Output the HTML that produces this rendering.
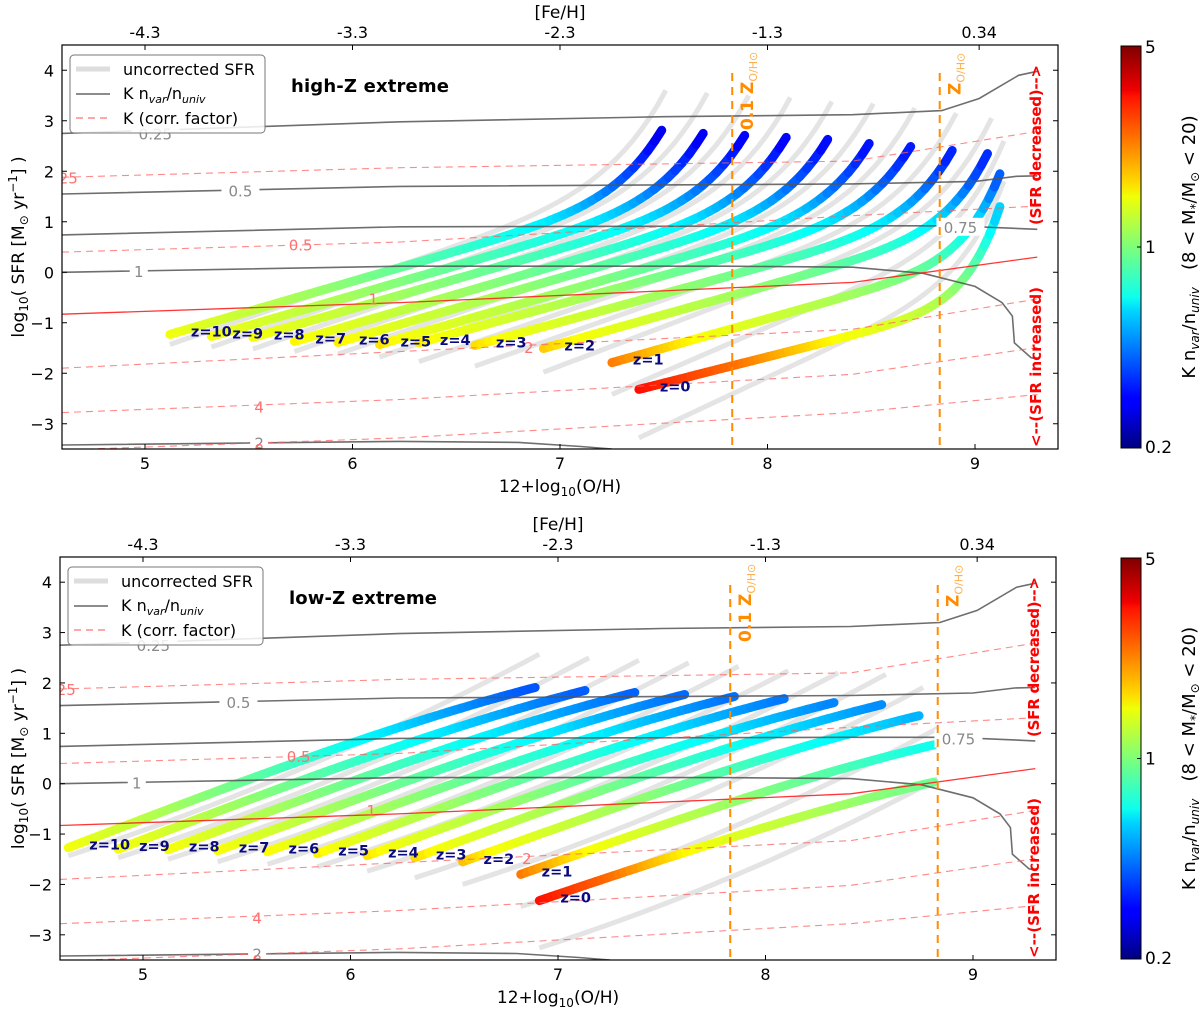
<!DOCTYPE html>
<html><head><meta charset="utf-8"><style>
html,body{margin:0;padding:0;background:#fff;}
svg{display:block;font-family:"DejaVu Sans","Liberation Sans",sans-serif;}
</style></head><body>
<svg id="chart" width="1200" height="1012" viewBox="0 0 1200 1012" xmlns="http://www.w3.org/2000/svg">
<defs>
<linearGradient id="jet" x1="0" y1="1" x2="0" y2="0">
<stop offset="0" stop-color="#000080"/><stop offset="0.11" stop-color="#0000ff"/><stop offset="0.125" stop-color="#0000ff"/>
<stop offset="0.34" stop-color="#00d4ff"/><stop offset="0.375" stop-color="#0dffef"/><stop offset="0.5" stop-color="#7dff7a"/>
<stop offset="0.625" stop-color="#f0ff06"/><stop offset="0.66" stop-color="#ffda00"/><stop offset="0.875" stop-color="#ff1300"/>
<stop offset="0.89" stop-color="#f00000"/><stop offset="1" stop-color="#800000"/>
</linearGradient>
</defs>
<g id="panels"></g>
</svg>
<script>
// ---- data (index = redshift z) ----
const zNames = ['z=0','z=1','z=2','z=3','z=4','z=5','z=6','z=7','z=8','z=9','z=10'];
// high-Z extreme, corrected tracks
const hiStartX = [7.38,7.25,6.92,6.59,6.32,6.13,5.93,5.72,5.52,5.32,5.12];
const hiStartY = [-2.32,-1.79,-1.51,-1.45,-1.40,-1.43,-1.39,-1.37,-1.29,-1.27,-1.23];
const hiEndX = [9.12,9.12,9.06,8.89,8.69,8.49,8.29,8.09,7.89,7.69,7.49];
const hiEndY = [1.30,1.95,2.35,2.41,2.49,2.55,2.63,2.67,2.71,2.75,2.81];
const hiHook = [0.5,0.42,0.36,0.33,0.31,0.3,0.3,0.3,0.3,0.3,0.3];
// high-Z uncorrected
const hiGreyStartY = [-3.28,-2.42,-1.98,-1.86,-1.77,-1.68,-1.62,-1.57,-1.52,-1.48,-1.43];
const hiGreyEndY = [1.8,2.6,3.05,3.15,3.25,3.34,3.38,3.46,3.5,3.55,3.6];
// low-Z extreme, corrected tracks
const loStartX = [6.91,6.82,6.54,6.31,6.08,5.84,5.60,5.36,5.12,4.88,4.64];
const loStartY = [-2.32,-1.80,-1.55,-1.47,-1.43,-1.39,-1.35,-1.33,-1.31,-1.30,-1.27];
const loEndX = [8.81,8.81,8.74,8.56,8.33,8.09,7.85,7.61,7.37,7.13,6.89];
const loEndY = [0.03,0.77,1.35,1.57,1.61,1.69,1.73,1.77,1.81,1.85,1.91];
// low-Z uncorrected
const loGreyStartY = [-3.26,-2.44,-2.0,-1.87,-1.74,-1.65,-1.6,-1.55,-1.5,-1.47,-1.43];
const loGreyEndY = [0.1,1.1,1.91,2.17,2.2,2.24,2.33,2.4,2.45,2.5,2.57];
// K n_var/n_univ contours
const gc025X = [4.6,6.23,7.5,8.41,8.84,9.02,9.21,9.3];
const gc025Y = [2.75,2.98,3.08,3.12,3.2,3.44,3.9,3.98];
const gc05X = [4.6,6.23,8.41,9.0,9.2,9.3];
const gc05Y = [1.55,1.7,1.75,1.8,1.9,1.91];
const gc075X = [4.6,6.23,8.41,8.9,9.3];
const gc075Y = [0.74,0.9,0.92,0.92,0.85];
const gc1X = [4.6,6.23,7.8,8.41,8.75,9.0,9.13,9.18,9.19,9.27,9.3];
const gc1Y = [0.0,0.12,0.12,0.1,-0.02,-0.28,-0.6,-0.87,-1.4,-1.69,-1.72];
const gc2X = [4.6,6.23,6.8,7.1,7.25];
const gc2Y = [-3.42,-3.35,-3.37,-3.45,-3.5];
// K (correction factor) contours
const kX = [4.6,6.23,8.41,9.3];
const k025Y = [1.88,2.07,2.2,2.79];
const k05Y = [0.4,0.6,1.12,1.31];
const k1Y = [-0.83,-0.6,-0.2,0.3];
const k2Y = [-1.9,-1.57,-1.13,-0.53];
const k4Y = [-2.78,-2.52,-2.02,-1.49];
const k8Y = [-3.52,-3.28,-2.78,-2.42];
// axes
const xTicks = [5,6,7,8,9];
const yTicks = [4,3,2,1,0,-1,-2,-3];
const feTickX = [5,6,7,8,9.02];
const feLabels = ['-4.3','-3.3','-2.3','-1.3','0.34'];
const zSolarX = [7.83,8.83];
// colour (K nvar/nuniv) vs log SFR, in colormap fraction
const cmapY = [-2.4,-1.8,-1.3,-0.5,0.3,1.0,1.8,2.8];
const cmapN = [0.88,0.76,0.62,0.54,0.45,0.36,0.22,0.1];

const NS='http://www.w3.org/2000/svg';
function mk(tag, attrs, parent){const e=document.createElementNS(NS,tag);for(const k in attrs)e.setAttribute(k,attrs[k]);parent.appendChild(e);return e;}
function interp(xa,ya,x){if(x<=xa[0])return ya[0];for(let i=1;i<xa.length;i++){if(x<=xa[i]){const t=(x-xa[i-1])/(xa[i]-xa[i-1]);return ya[i-1]+t*(ya[i]-ya[i-1]);}}return ya[ya.length-1];}
function jet(n){const c=v=>Math.round(255*Math.max(0,Math.min(1,v)));return 'rgb('+c(1.5-Math.abs(4*n-3))+','+c(1.5-Math.abs(4*n-2))+','+c(1.5-Math.abs(4*n-1))+')';}
function trackPts(x0,y0,x1,y1,h,p,n){const pts=[];for(let i=0;i<=n;i++){const t=i/n;pts.push([x0+(x1-x0)*t,y0+(y1-y0)*((1-h)*t+h*Math.pow(t,p))]);}return pts;}

const root=document.getElementById('panels');
const panels=[
 {key:'high-z',f:{l:62,r:1058,t:45,b:449},title:'high-Z extreme',sx:hiStartX,sy:hiStartY,ex:hiEndX,ey:hiEndY,hook:hiHook,p:11,gsy:hiGreyStartY,gey:hiGreyEndY,gh:0.33,gp:9},
 {key:'low-z',f:{l:60,r:1056,t:557,b:960},title:'low-Z extreme',sx:loStartX,sy:loStartY,ex:loEndX,ey:loEndY,hook:null,p:3,gsy:loGreyStartY,gey:loGreyEndY,gh:0.25,gp:2}
];

panels.forEach(P=>{
 const f=P.f;
 const X=x=>f.l+(x-4.6)/4.8*(f.r-f.l);
 const Y=y=>f.b-(y+3.5)/8*(f.b-f.t);
 const g=mk('g',{},root);
 
 
 mk('clipPath',{id:'clip-'+P.key},g).appendChild(document.createElementNS(NS,'rect'));
 const cr=g.querySelector('clipPath rect');cr.setAttribute('x',f.l);cr.setAttribute('y',f.t);cr.setAttribute('width',f.r-f.l);cr.setAttribute('height',f.b-f.t);
 const plot=mk('g',{'clip-path':'url(#clip-'+P.key+')'},g);
 
 
 const poly=pts=>pts.map(q=>X(q[0]).toFixed(1)+','+Y(q[1]).toFixed(1)).join(' ');
 // grey uncorrected tracks
 for(let i=0;i<11;i++){
  const pts=trackPts(P.sx[i],P.gsy[i],P.ex[i]+0.02,P.gey[i],P.gh,P.gp,60);
  const e=mk('polyline',{points:poly(pts),fill:'none',stroke:'rgb(205,205,205)','stroke-opacity':'0.55','stroke-width':'5'},plot);
  
  
 }
 // coloured tracks
 for(let i=10;i>=0;i--){
  const h=P.hook?P.hook[i]:-0.12;
  const pts=trackPts(P.sx[i],P.sy[i],P.ex[i],P.ey[i],h,P.p,70);
  const tg=mk('g',{},plot);
  
  
  for(let k=1;k<pts.length;k++){
   const ym=(pts[k-1][1]+pts[k][1])/2;
   mk('line',{x1:X(pts[k-1][0]).toFixed(1),y1:Y(pts[k-1][1]).toFixed(1),x2:X(pts[k][0]).toFixed(1),y2:Y(pts[k][1]).toFixed(1),stroke:jet(interp(cmapY,cmapN,ym)),'stroke-width':'9','stroke-linecap':'round'},tg);
  }
 }
 // contours
 const gcs=[[gc025X,gc025Y,'0.25'],[gc05X,gc05Y,'0.5'],[gc075X,gc075Y,'0.75'],[gc1X,gc1Y,'1'],[gc2X,gc2Y,'2']];
 gcs.forEach(c=>{
  const e=mk('polyline',{points:poly(c[0].map((x,j)=>[x,c[1][j]])),fill:'none',stroke:'#555','stroke-opacity':'0.85','stroke-width':'1.6'},plot);
  
  
 });
 const ks=[[k025Y,'0.25'],[k05Y,'0.5'],[k1Y,'1'],[k2Y,'2'],[k4Y,'4'],[k8Y,'8']];
 ks.forEach(c=>{
  const solid=c[1]==='1';
  const e=mk('polyline',{points:poly(kX.map((x,j)=>[x,c[0][j]])),fill:'none',stroke:solid?'#ff2020':'#ff6060','stroke-opacity':solid?'0.9':'0.75','stroke-width':solid?'1.3':'1.1','stroke-dasharray':solid?'none':'7,5'},plot);
  
  
 });
 // contour labels
 const gl=[[5.05,2.75,'0.25'],[5.46,1.62,'0.5'],[8.93,0.9,'0.75'],[4.97,0.02,'1'],[5.55,-3.37,'2']];
 gl.forEach(l=>{
  const bg=mk('rect',{x:X(l[0])-(l[2].length*5+4),y:Y(l[1])-9,width:l[2].length*10+8,height:18,fill:'#fff'},plot);
  
  
  const t=mk('text',{x:X(l[0]),y:Y(l[1])+6,'text-anchor':'middle','font-size':'15',fill:'#888'},plot);
  t.textContent=l[2];
  
  
 });
 const kl=[[4.63,1.88,'25'],[5.75,0.55,'0.5'],[6.1,-0.52,'1'],[6.85,-1.48,'2'],[5.55,-2.66,'4'],[5.55,-3.5,'8']];
 kl.forEach(l=>{
  const t=mk('text',{x:X(l[0]),y:Y(l[1])+6,'text-anchor':'middle','font-size':'15',fill:'#ff7070'},plot);
  t.textContent=l[2];
  
  
 });
 // solar lines
 zSolarX.forEach((zx,j)=>{
  const e=mk('line',{x1:X(zx),x2:X(zx),y1:f.t+28,y2:f.b,stroke:'#ff8c00','stroke-width':'2','stroke-dasharray':'8,6'},plot);
  
  
  const t=mk('text',{transform:'translate('+(X(zx)+21)+','+(f.t+(j===0?85:50))+') rotate(-90)','font-size':'17','font-weight':'bold',fill:'#ff8c00'},plot);
  
  
  t.innerHTML=(j===0?'0.1 ':'')+'Z<tspan font-size="11" font-weight="normal" dy="4" fill-opacity="0.7">O/H⊙</tspan>';
 });
 // z labels
 for(let i=0;i<11;i++){
  const t=mk('text',{x:X(P.sx[i])+21,y:Y(P.sy[i])+2,'font-size':'14.5','font-weight':'bold',fill:'#0a0a80'},plot);
  t.textContent=zNames[i];
  
  
 }
 // SFR direction text
 const s1=mk('text',{transform:'translate('+(f.r-17)+','+(f.t+180)+') rotate(-90)','font-size':'15','font-weight':'bold',fill:'#ff0000',textLength:'160'},g);
 s1.textContent='(SFR decreased)-->';
 
 
 const s2=mk('text',{transform:'translate('+(f.r-17)+','+(f.b-2)+') rotate(-90)','font-size':'15','font-weight':'bold',fill:'#ff0000',textLength:'160'},g);
 s2.textContent='<--(SFR increased)';
 
 
 // frame
 const fr=mk('rect',{x:f.l,y:f.t,width:f.r-f.l,height:f.b-f.t,fill:'none',stroke:'#000','stroke-width':'1.2'},g);
 
 
 // ticks
 xTicks.forEach(v=>{
  mk('line',{x1:X(v),x2:X(v),y1:f.b,y2:f.b-5,stroke:'#000'},g);
  const t=mk('text',{x:X(v),y:f.b+20,'text-anchor':'middle','font-size':'16'},g);
  t.textContent=v;
  
  
 });
 feTickX.forEach((v,j)=>{
  mk('line',{x1:X(v),x2:X(v),y1:f.t,y2:f.t+5,stroke:'#000'},g);
  const t=mk('text',{x:X(v),y:f.t-7,'text-anchor':'middle','font-size':'16'},g);
  t.textContent=feLabels[j];
  
  
 });
 yTicks.forEach(v=>{
  mk('line',{x1:f.l,x2:f.l+5,y1:Y(v),y2:Y(v),stroke:'#000'},g);
  mk('line',{x1:f.r,x2:f.r-5,y1:Y(v),y2:Y(v),stroke:'#000'},g);
  const t=mk('text',{x:f.l-8,y:Y(v)+6,'text-anchor':'end','font-size':'16'},g);
  t.textContent=v<0?'\u2212'+(-v):String(v);
  
  
 });
 // axis titles
 const xt=mk('text',{x:(f.l+f.r)/2,y:f.b+43,'text-anchor':'middle','font-size':'17'},g);
 xt.innerHTML='12+log<tspan font-size="12" dy="4">10</tspan><tspan dy="-4">(O/H)</tspan>';
 
 
 const ft=mk('text',{x:(f.l+f.r)/2,y:f.t-27,'text-anchor':'middle','font-size':'17'},g);
 ft.textContent='[Fe/H]';
 
 
 const yt=mk('text',{transform:'translate(24,'+((f.t+f.b)/2)+') rotate(-90)','text-anchor':'middle','font-size':'17'},g);
 yt.innerHTML='log<tspan font-size="12" dy="4">10</tspan><tspan dy="-4">( SFR [M</tspan><tspan font-size="12" dy="4">⊙</tspan><tspan dy="-4"> yr</tspan><tspan font-size="12" dy="-7">−1</tspan><tspan dy="7">] )</tspan>';
 
 
 // panel title
 const pt=mk('text',{x:f.l+229,y:f.t+47,'font-size':'18','font-weight':'bold',textLength:P.key==='high-z'?'158':'148'},g);
 pt.textContent=P.title;
 
 
 // legend
 const lg=mk('g',{transform:'translate('+(f.l+8)+','+(f.t+10)+')'},g);
 
 
 mk('rect',{x:0,y:0,width:195,height:78,rx:4,fill:'#fff','fill-opacity':'0.85',stroke:'#777','stroke-width':'1'},lg);
 const e1=mk('line',{x1:6,x2:40,y1:14,y2:14,stroke:'#ddd','stroke-width':'5'},lg);
 
 
 const e2=mk('line',{x1:6,x2:40,y1:39,y2:39,stroke:'#666','stroke-width':'1.6'},lg);
 
 
 const e3=mk('line',{x1:6,x2:40,y1:63,y2:63,stroke:'#ff7070','stroke-width':'1.2','stroke-dasharray':'7,5'},lg);
 
 
 const t1=mk('text',{x:53,y:20,'font-size':'16'},lg);t1.textContent='uncorrected SFR';
 
 
 const t2=mk('text',{x:53,y:44,'font-size':'16'},lg);
 t2.innerHTML='K n<tspan font-size="11" font-style="italic" dy="4">var</tspan><tspan dy="-4">/n</tspan><tspan font-size="11" font-style="italic" dy="4">univ</tspan>';
 
 
 const t3=mk('text',{x:53,y:69,'font-size':'16'},lg);t3.textContent='K (corr. factor)';
 
 
 // colorbar
 const cb=mk('g',{},g);
 
 
 mk('rect',{x:1121,y:f.t+1,width:20,height:f.b-f.t-2,fill:'url(#jet)',stroke:'#000','stroke-width':'1'},cb);
 [['5',f.t+8],['1',(f.t+f.b)/2+6],['0.2',f.b+4]].forEach(a=>{
  const t=mk('text',{x:1145,y:a[1],'font-size':'17'},cb);
  t.textContent=a[0];
  
  
 });
 mk('line',{x1:1137,x2:1141,y1:(f.t+f.b)/2,y2:(f.t+f.b)/2,stroke:'#000'},cb);
 const cl=mk('text',{transform:'translate(1195,'+((f.t+f.b)/2)+') rotate(-90)','text-anchor':'middle','font-size':'18'},cb);
 cl.innerHTML='K n<tspan font-size="12" font-style="italic" dy="4">var</tspan><tspan dy="-4">/n</tspan><tspan font-size="12" font-style="italic" dy="4">univ</tspan><tspan dy="-4" xml:space="preserve">   (8 &lt; M</tspan><tspan font-size="12" dy="4">*</tspan><tspan dy="-4">/M</tspan><tspan font-size="12" dy="4">⊙</tspan><tspan dy="-4"> &lt; 20)</tspan>';
 
 
});
</script>
</body></html>
